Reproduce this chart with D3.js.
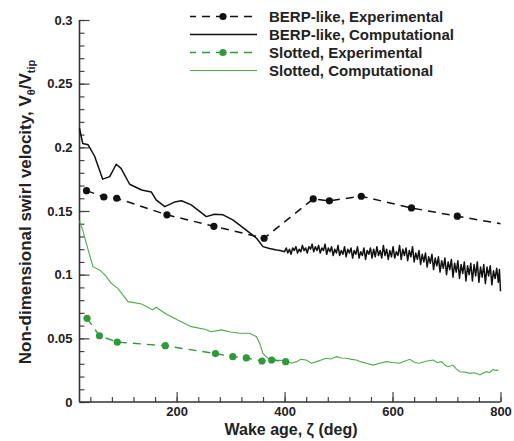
<!DOCTYPE html>
<html lang="en">
<head>
<meta charset="UTF-8">
<title>Swirl velocity vs wake age</title>
<style>
	body { margin: 0; background: #fff; }
	text { font-family: "Liberation Sans", Arial, sans-serif; font-weight: bold; fill: #222; }
</style>
</head>
<body>
<svg width="514" height="441"></svg>
<script src="https://d3js.org/d3.v7.min.js"></script>
<script>
// data: [wake age (deg), V_theta / V_tip]
var berpExp = [[33,0.166],[65,0.161],[89,0.160],[182,0.147],[269,0.138],[362,0.1286],
	[453,0.1595],[483,0.158],[542,0.1616],[635,0.1524],[720,0.1459],[800,0.140]];

var berpComp = [[20,0.215],[26,0.203],[36,0.202],[48,0.193],[63,0.175],[76,0.177],[88,0.1867],
	[97,0.1835],[113,0.171],[135,0.1665],[153,0.165],[162,0.1587],[178,0.1534],[196,0.157],[209,0.158],
	[227,0.1548],[255,0.1456],[270,0.1475],[286,0.147],[304,0.143],[329,0.135],[348,0.1286],[360,0.122],
	[372,0.1205],[385,0.1194],[392,0.119],
	[400,0.118],[403,0.121],[406,0.117],[409,0.120],[412,0.116],[415,0.121],[418,0.119],[421,0.122],
	[424,0.117],[427,0.120],[430,0.118],[433,0.123],[436,0.119],[439,0.121],[442,0.117],[445,0.122],
	[448,0.120],[451,0.124],[454,0.118],[457,0.122],[460,0.119],[463,0.123],[466,0.117],[469,0.121],
	[472,0.119],[475,0.124],[478,0.116],[481,0.121],[484,0.118],[487,0.122],[490,0.115],[493,0.120],
	[496,0.117],[499,0.123],[502,0.115],[505,0.119],[508,0.116],[511,0.122],[514,0.114],[517,0.120],
	[520,0.117],[523,0.121],[526,0.113],[529,0.119],[532,0.116],[535,0.122],[538,0.113],[541,0.118],
	[544,0.115],[547,0.121],[550,0.112],[553,0.119],[556,0.116],[559,0.121],[562,0.113],[565,0.120],
	[568,0.114],[571,0.122],[574,0.115],[577,0.119],[580,0.113],[583,0.123],[586,0.115],[589,0.120],
	[592,0.112],[595,0.119],[598,0.114],[601,0.122],[604,0.113],[607,0.118],[610,0.115],[613,0.123],
	[616,0.112],[619,0.120],[622,0.115],[625,0.121],[628,0.111],[631,0.119],[634,0.114],[637,0.122],
	[640,0.110],[643,0.117],[646,0.112],[649,0.119],[652,0.108],[655,0.116],[658,0.110],[661,0.117],
	[664,0.106],[667,0.114],[670,0.109],[673,0.116],[676,0.104],[679,0.113],[682,0.107],[685,0.114],
	[688,0.102],[691,0.111],[694,0.105],[697,0.113],[700,0.100],[703,0.110],[706,0.104],[709,0.112],
	[712,0.098],[715,0.109],[718,0.102],[721,0.111],[724,0.097],[727,0.108],[730,0.101],[733,0.110],
	[736,0.095],[739,0.107],[742,0.100],[745,0.109],[748,0.095],[751,0.108],[754,0.099],[757,0.110],
	[760,0.094],[763,0.106],[766,0.098],[769,0.108],[772,0.093],[775,0.106],[778,0.099],[781,0.107],
	[784,0.092],[787,0.103],[790,0.097],[793,0.105],[796,0.094],[798,0.104],[800,0.087]];

var slotExp = [[34,0.0657],[57,0.052],[90,0.047],[179,0.0442],[272,0.038],[304,0.0356],
	[329,0.0346],[358,0.0322],[376,0.033],[402,0.0317]];

var slotComp = [[20,0.142],[26,0.135],[36,0.1194],[45,0.1063],[57,0.1037],[67,0.0998],[79,0.0932],
	[91,0.0893],[110,0.0788],[135,0.077],[156,0.0723],[162,0.0744],[178,0.0697],[202,0.0644],
	[227,0.0592],[252,0.0571],[264,0.0552],[283,0.0566],[300,0.055],[317,0.054],[335,0.054],
	[348,0.0513],[354,0.046],[360,0.038],[369,0.0343],[385,0.033],[400,0.0325],[412,0.0305],
	[422,0.0317],[430,0.0335],[440,0.033],[450,0.0305],[459,0.0317],[468,0.033],[477,0.0343],
	[486,0.0338],[496,0.0356],[505,0.0345],[515,0.0343],[524,0.0335],[533,0.033],[542,0.0315],
	[552,0.0304],[564,0.029],[576,0.0305],[589,0.0317],[600,0.031],[613,0.0304],[622,0.032],
	[632,0.0335],[641,0.031],[650,0.0304],[662,0.032],[675,0.033],[683,0.031],[691,0.0317],
	[697,0.029],[703,0.0277],[712,0.029],[718,0.026],[725,0.0238],[734,0.0235],[743,0.0225],
	[752,0.023],[762,0.0212],[768,0.0228],[774,0.0238],[780,0.023],[786,0.0256],[791,0.0248],[796,0.025]];

var xTicks = [200, 400, 600, 800];
var yTicks = [0, 0.05, 0.1, 0.15, 0.2, 0.25, 0.3];
var legendNames = ["BERP-like, Experimental", "BERP-like, Computational",
	"Slotted, Experimental", "Slotted, Computational"];

var svg = d3.select("svg");
var x = d3.scaleLinear().domain([20, 800]).range([79.5, 500.5]);
var y = d3.scaleLinear().domain([0, 0.3]).range([402, 20]);

var black = "#111", green = "#4caa4c", greenDot = "#2f9a3c";

var line = d3.line().x(function (d) { return x(d[0]); }).y(function (d) { return y(d[1]); });

// axes, ticks drawn inward like the original
svg.append("g").attr("transform", "translate(0,402)")
	.call(d3.axisBottom(x).tickValues(d3.range(40, 801, 40)).tickSize(-5).tickFormat(""));
var gx2 = svg.append("g").attr("transform", "translate(0,402)")
	.call(d3.axisBottom(x).tickValues(xTicks).tickSize(-10).tickPadding(5).tickFormat(d3.format("d")));
svg.append("g").attr("transform", "translate(79.5,0)")
	.call(d3.axisLeft(y).tickValues(d3.range(0, 0.3001, 0.01)).tickSize(-5).tickFormat(""));
svg.append("g").attr("transform", "translate(79.5,0)")
	.call(d3.axisLeft(y).tickValues(yTicks).tickSize(-10).tickPadding(7)
		.tickFormat(function (d) { return d === 0 ? "0" : String(+d.toFixed(2)); }));

svg.selectAll(".tick line").attr("stroke", "#444").attr("stroke-width", 1.2);
svg.selectAll(".tick text").style("font-size", "13px").attr("fill", "#333");
gx2.selectAll(".tick text").attr("y", 5).attr("dy", "0.71em");
// keep only the axis lines, no outer ticks
svg.selectAll(".domain").remove();
svg.append("line").attr("x1", 79.5).attr("x2", 79.5).attr("y1", y(0.3)).attr("y2", 402)
	.attr("stroke", "#333").attr("stroke-width", 1.6);
svg.append("line").attr("x1", 79.5).attr("x2", x(800)).attr("y1", 402).attr("y2", 402)
	.attr("stroke", "#333").attr("stroke-width", 1.6);

// series
svg.append("path").datum(slotComp).attr("d", line).attr("fill", "none")
	.attr("stroke", green).attr("stroke-width", 1.1);
svg.append("path").datum(slotExp).attr("d", line).attr("fill", "none")
	.attr("stroke", greenDot).attr("stroke-width", 1.4).attr("stroke-dasharray", "8,6");
svg.selectAll(".gdot").data(slotExp).enter().append("circle")
	.attr("cx", function (d) { return x(d[0]); }).attr("cy", function (d) { return y(d[1]); })
	.attr("r", 3.6).attr("fill", greenDot);

svg.append("path").datum(berpComp).attr("d", line).attr("fill", "none")
	.attr("stroke", black).attr("stroke-width", 1.5).attr("stroke-linejoin", "round");
svg.append("path").datum(berpExp).attr("d", line).attr("fill", "none")
	.attr("stroke", black).attr("stroke-width", 1.5).attr("stroke-dasharray", "8,6");
svg.selectAll(".bdot").data(berpExp.slice(0, -1)).enter().append("circle")
	.attr("cx", function (d) { return x(d[0]); }).attr("cy", function (d) { return y(d[1]); })
	.attr("r", 3.6).attr("fill", black);

// legend
var leg = svg.append("g");
var legStyle = [
	{ c: black, dash: "8,6", dot: true, w: 1.5 },
	{ c: black, dash: null, dot: false, w: 1.6 },
	{ c: greenDot, dash: "8,6", dot: true, w: 1.4 },
	{ c: green, dash: null, dot: false, w: 1.2 }
];
legendNames.forEach(function (name, i) {
	var ry = 16.5 + i * 18;
	var s = legStyle[i];
	leg.append("line").attr("x1", 190).attr("x2", 257).attr("y1", ry).attr("y2", ry)
		.attr("stroke", s.c).attr("stroke-width", s.w).attr("stroke-dasharray", s.dash)
		.attr("stroke-dashoffset", s.dash ? 2 : null);
	if (s.dot) leg.append("circle").attr("cx", 223).attr("cy", ry).attr("r", 3.6).attr("fill", s.c);
	leg.append("text").attr("x", 269).attr("y", ry).attr("dy", "0.35em")
		.style("font-size", "15px").attr("fill", "#222").text(name);
});

// axis titles
svg.append("text").attr("x", 291).attr("y", 435).attr("text-anchor", "middle")
	.style("font-size", "16px").text("Wake age, \u03b6 (deg)");

var yl = svg.append("text").attr("transform", "translate(31,212) rotate(-90)")
	.attr("text-anchor", "middle").style("font-size", "17px");
yl.append("tspan").text("Non-dimensional swirl velocity, V");
yl.append("tspan").attr("dy", 4).style("font-size", "11px").text("\u03b8");
yl.append("tspan").attr("dy", -4).text("/V");
yl.append("tspan").attr("dy", 4).style("font-size", "11px").text("tip");
</script>
</body>
</html>
